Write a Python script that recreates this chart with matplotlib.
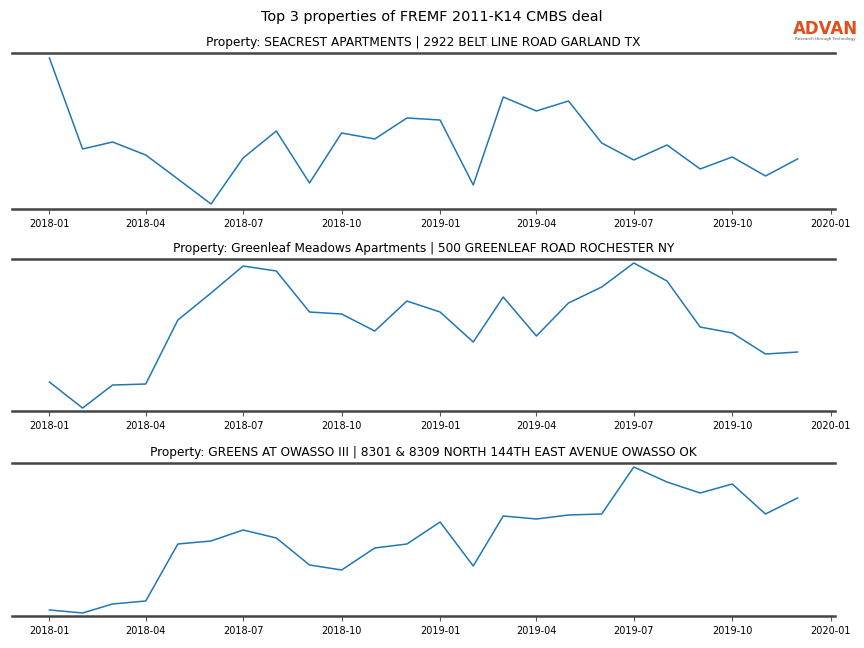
import numpy as np
import pandas as pd
import matplotlib
matplotlib.use("Agg")
import matplotlib.pyplot as plt
import matplotlib.dates as mdates

months = pd.date_range("2018-01-01", "2019-12-01", freq="MS")

titles = [
    "Property: SEACREST APARTMENTS | 2922 BELT LINE ROAD GARLAND TX",
    "Property: Greenleaf Meadows Apartments | 500 GREENLEAF ROAD ROCHESTER NY",
    "Property: GREENS AT OWASSO III | 8301 & 8309 NORTH 144TH EAST AVENUE OWASSO OK",
]

# relative values (no y scale shown in the original)
seacrest = [151, 60, 67, 54, 30, 5, 51, 78, 26, 76, 70, 91, 89, 24, 112, 98, 108, 66, 49, 64, 40, 52, 33, 50]
greenleaf = [29, 3, 26, 27, 91, 118, 145, 140, 99, 97, 80, 110, 99, 69, 114, 75, 108, 124, 148, 130, 84, 78, 57, 59]
owasso = [6, 3, 12, 15, 72, 75, 86, 78, 51, 46, 68, 72, 94, 50, 100, 97, 101, 102, 149, 134, 123, 132, 102, 118]

series = [seacrest, greenleaf, owasso]
ytops = [156, 152, 153]

fig = plt.figure(figsize=(8.64, 6.48), dpi=100)
fig.suptitle("Top 3 properties of FREMF 2011-K14 CMBS deal", fontsize=10.4, y=0.984)

# axes boxes in figure fraction: left, bottom, width, height
boxes = [
    [0.0139, 0.6775, 0.9525, 0.2407],
    [0.0139, 0.3657, 0.9525, 0.2346],
    [0.0139, 0.0494, 0.9525, 0.2361],
]

for box, vals, title, ytop in zip(boxes, series, titles, ytops):
    ax = fig.add_axes(box)
    ax.plot(months, vals, color="#1f77b4", lw=1.1)
    ax.set_ylim(0, ytop)
    ax.set_title(title, fontsize=8.7, pad=5)
    ax.xaxis.set_major_locator(mdates.MonthLocator(bymonth=[1, 4, 7, 10]))
    ax.xaxis.set_major_formatter(mdates.DateFormatter("%Y-%m"))
    ax.set_yticks([])
    for s in ["left", "right"]:
        ax.spines[s].set_visible(False)
    for s in ["top", "bottom"]:
        ax.spines[s].set_color("#444444")
        ax.spines[s].set_linewidth(1.8)
    ax.tick_params(axis="x", labelsize=7, length=3.5, width=0.8, color="#555555", pad=4)

fig.text(0.955, 0.956, "ADVAN", color="#e0501c", fontsize=12, fontweight="semibold",
         ha="center", va="center")
fig.text(0.955, 0.940, "Research through Technology", color="#555555", fontsize=3,
         ha="center", va="center")

fig.savefig("out.png", dpi=100)
